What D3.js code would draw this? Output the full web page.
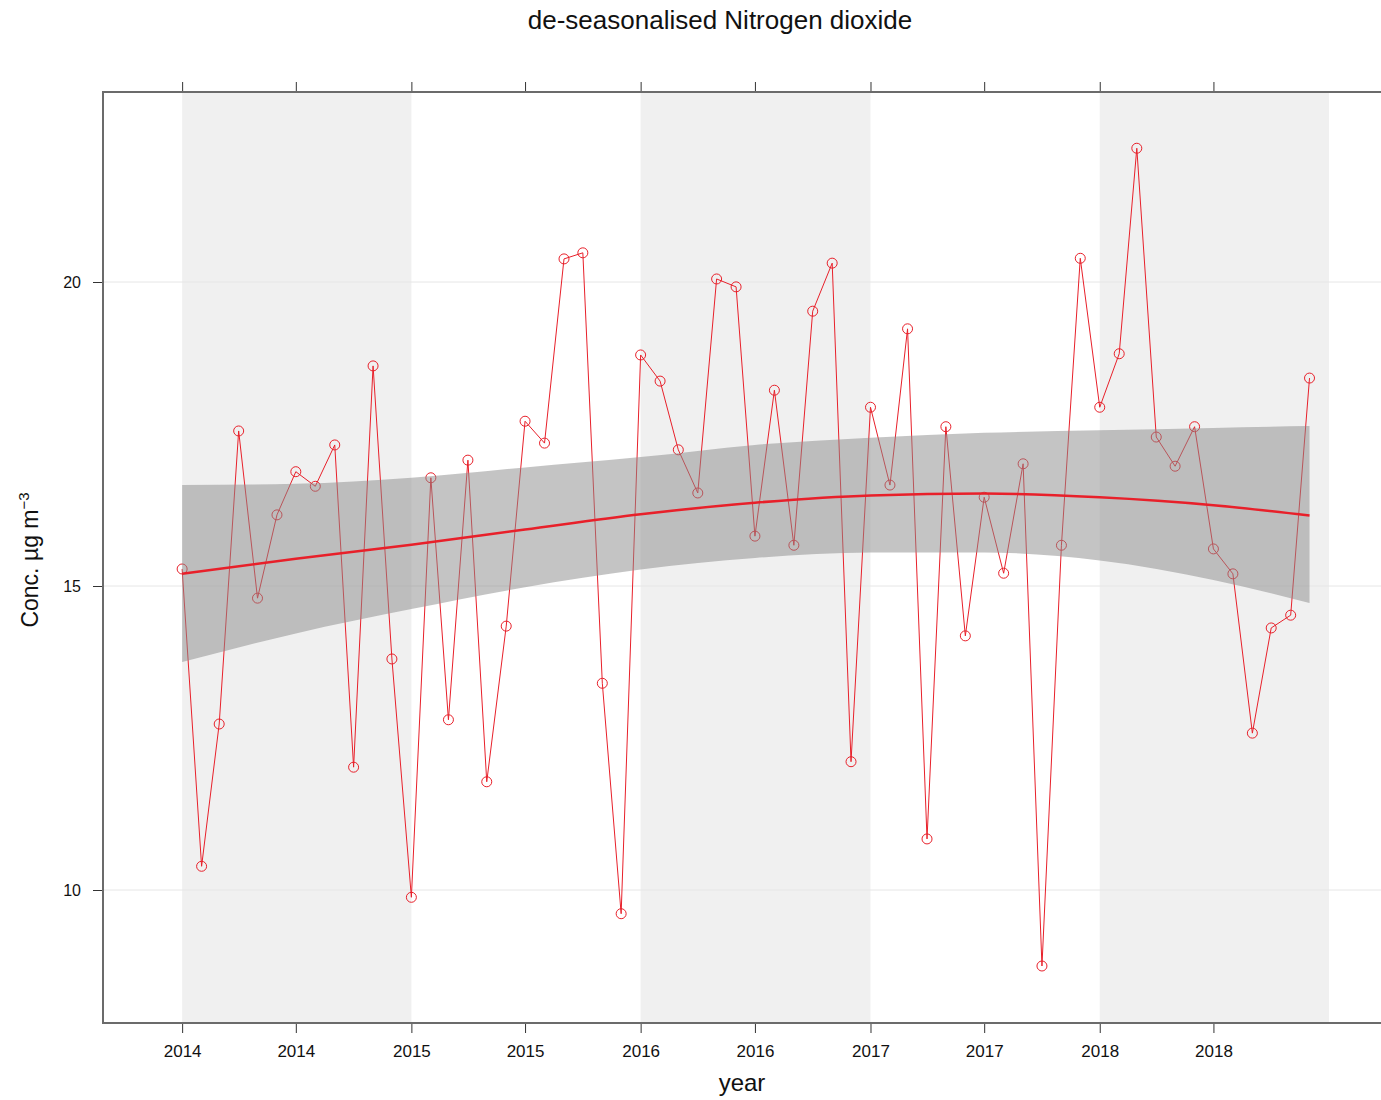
<!DOCTYPE html>
<html>
<head>
<meta charset="utf-8">
<script src="https://cdn.jsdelivr.net/npm/d3@7"></script>
<style>
  body { margin: 0; background: #fff; }
  svg { font-family: "Liberation Sans", Arial, Helvetica, sans-serif; }
</style>
</head>
<body>
<div id="chart"></div>
<script>
// monthly de-seasonalised NO2, Jan 2014 .. Dec 2018
const firstMonth = new Date(2014, 0, 1);
const monthlyValues = [
    15.28, 10.39, 12.73, 17.55, 14.80, 16.17, 16.88, 16.64, 17.32, 12.02, 18.62, 13.80,
    9.88, 16.78, 12.80, 17.07, 11.78, 14.34, 17.71, 17.35, 20.38, 20.48, 13.40, 9.61,
    18.80, 18.37, 17.24, 16.53, 20.05, 19.92, 15.82, 18.22, 15.67, 19.52, 20.31, 12.11,
    17.94, 16.66, 19.23, 10.84, 17.62, 14.18, 16.46, 15.21, 17.01, 8.75, 15.67, 20.39,
    17.94, 18.82, 22.20, 17.45, 16.97, 17.62, 15.61, 15.20, 12.58, 14.31, 14.52, 18.42
];

// smooth trend and its confidence interval, read at half-year steps
const trendDates = ["2014-01-01", "2014-07-01", "2015-01-01", "2015-07-01", "2016-01-01", "2016-07-01",
    "2017-01-01", "2017-07-01", "2018-01-01", "2018-07-01", "2018-12-01"];
const trendValues = [15.20, 15.45, 15.68, 15.93, 16.18, 16.37, 16.49, 16.52, 16.46, 16.33, 16.16];
const upperValues = [16.66, 16.68, 16.78, 16.95, 17.12, 17.32, 17.44, 17.52, 17.56, 17.60, 17.63];
const lowerValues = [13.75, 14.22, 14.62, 14.98, 15.27, 15.46, 15.55, 15.55, 15.42, 15.10, 14.72];

const tickDates = ["2014-01-01", "2014-07-01", "2015-01-01", "2015-07-01", "2016-01-01", "2016-07-01",
    "2017-01-01", "2017-07-01", "2018-01-01", "2018-07-01"];
const shadedYears = [2014, 2016, 2018];
const yTicks = [10, 15, 20];

const parse = d3.timeParse("%Y-%m-%d");
const months = monthlyValues.map((v, i) => ({ date: d3.timeMonth.offset(firstMonth, i), value: v }));
const trend = trendDates.map((d, i) => ({ date: parse(d), fit: trendValues[i], upper: upperValues[i], lower: lowerValues[i] }));

const W = 1381, H = 1100;
const plot = { left: 103, right: 1383, top: 92, bottom: 1023 };
const red = "#e8202a";

const svg = d3.select("#chart").append("svg")
    .attr("width", W)
    .attr("height", H);

const x = d3.scaleTime()
    .domain([new Date(2013, 7, 28), new Date(2019, 2, 28)])
    .range([plot.left, plot.right]);

const y = d3.scaleLinear()
    .domain([7.8125, 23.125])
    .range([plot.bottom, plot.top]);

svg.append("clipPath").attr("id", "clip")
    .append("rect")
    .attr("x", plot.left).attr("y", plot.top)
    .attr("width", plot.right - plot.left).attr("height", plot.bottom - plot.top);

const inner = svg.append("g").attr("clip-path", "url(#clip)");

// alternate year shading
inner.selectAll("rect.year")
    .data(shadedYears)
    .join("rect")
    .attr("class", "year")
    .attr("x", d => x(new Date(d, 0, 1)))
    .attr("width", d => x(new Date(d + 1, 0, 1)) - x(new Date(d, 0, 1)))
    .attr("y", plot.top)
    .attr("height", plot.bottom - plot.top)
    .style("fill", "#f0f0f0");

// horizontal grid lines
inner.selectAll("line.grid")
    .data(yTicks)
    .join("line")
    .attr("x1", plot.left).attr("x2", plot.right)
    .attr("y1", d => y(d)).attr("y2", d => y(d))
    .style("stroke", "#e6e6e6")
    .style("stroke-width", 1);

// data line and points
inner.append("path")
    .datum(months)
    .attr("d", d3.line().x(d => x(d.date)).y(d => y(d.value)))
    .style("fill", "none")
    .style("stroke", red)
    .style("stroke-width", 1);

inner.selectAll("circle.pt")
    .data(months)
    .join("circle")
    .attr("class", "pt")
    .attr("cx", d => x(d.date))
    .attr("cy", d => y(d.value))
    .attr("r", 5)
    .style("fill", "none")
    .style("stroke", red)
    .style("stroke-width", 1);

// confidence band, drawn over the data like openair does
inner.append("path")
    .datum(trend)
    .attr("d", d3.area()
        .x(d => x(d.date))
        .y0(d => y(d.lower))
        .y1(d => y(d.upper))
        .curve(d3.curveMonotoneX))
    .style("fill", "#8a8a8a")
    .style("opacity", 0.5);

// trend line
inner.append("path")
    .datum(trend)
    .attr("d", d3.line().x(d => x(d.date)).y(d => y(d.fit)).curve(d3.curveMonotoneX))
    .style("fill", "none")
    .style("stroke", red)
    .style("stroke-width", 2.5);

// axes
const ticks = tickDates.map(parse);

svg.append("g")
    .attr("transform", `translate(0,${plot.bottom})`)
    .call(d3.axisBottom(x).tickValues(ticks).tickSize(10).tickPadding(12).tickFormat(d3.timeFormat("%Y")))
    .call(g => g.select(".domain").remove())
    .call(g => g.selectAll("line").style("stroke", "#333"))
    .call(g => g.selectAll("text").style("font-size", "17px").style("fill", "#111"));

svg.append("g")
    .attr("transform", `translate(0,${plot.top})`)
    .call(d3.axisTop(x).tickValues(ticks).tickSize(10).tickFormat(""))
    .call(g => g.select(".domain").remove())
    .call(g => g.selectAll("line").style("stroke", "#333"));

svg.append("g")
    .attr("transform", `translate(${plot.left},0)`)
    .call(d3.axisLeft(y).tickValues(yTicks).tickSize(10).tickPadding(12))
    .call(g => g.select(".domain").remove())
    .call(g => g.selectAll("line").style("stroke", "#333"))
    .call(g => g.selectAll("text").style("font-size", "16px").style("fill", "#111"));

// frame
svg.append("rect")
    .attr("x", plot.left).attr("y", plot.top)
    .attr("width", plot.right - plot.left).attr("height", plot.bottom - plot.top)
    .style("fill", "none")
    .style("stroke", "#6b6b6b")
    .style("stroke-width", 2);

// titles
svg.append("text")
    .attr("x", 720).attr("y", 29)
    .attr("text-anchor", "middle")
    .style("font-size", "26px")
    .style("fill", "#111")
    .text("de-seasonalised Nitrogen dioxide");

svg.append("text")
    .attr("x", 742).attr("y", 1091)
    .attr("text-anchor", "middle")
    .style("font-size", "24px")
    .style("fill", "#111")
    .text("year");

const ylab = svg.append("text")
    .attr("transform", "translate(38,560) rotate(-90)")
    .attr("text-anchor", "middle")
    .style("font-size", "23px")
    .style("fill", "#111");
ylab.append("tspan").text("Conc. \u00b5g m");
ylab.append("tspan").attr("dy", -9).style("font-size", "15px").text("\u22123");
</script>
</body>
</html>
